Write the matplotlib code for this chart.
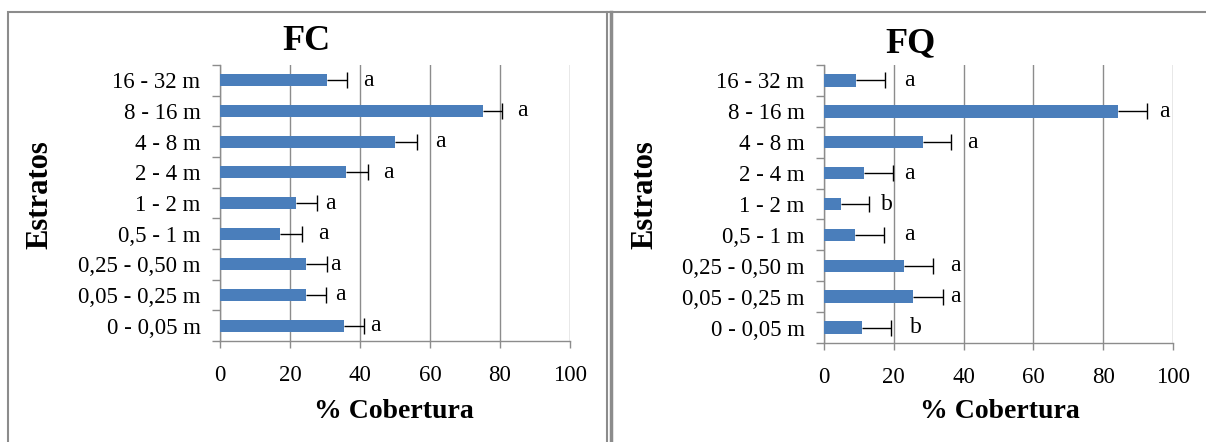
import numpy as np
import matplotlib.pyplot as plt
from matplotlib.lines import Line2D
from matplotlib.patches import Rectangle

plt.rcParams['font.family'] = ['Liberation Serif', 'DejaVu Serif']

# strata, listed from the bottom of the chart to the top
strata = ['0 - 0,05 m', '0,05 - 0,25 m', '0,25 - 0,50 m', '0,5 - 1 m',
          '1 - 2 m', '2 - 4 m', '4 - 8 m', '8 - 16 m', '16 - 32 m']

# FC panel
fc_cover = [35.3, 24.5, 24.5, 17.2, 21.6, 36.0, 50.0, 75.0, 30.5]
fc_err = [5.7, 5.8, 6.1, 6.3, 6.2, 6.2, 6.2, 5.7, 5.7]
fc_letters = ['a', 'a', 'a', 'a', 'a', 'a', 'a', 'a', 'a']
fc_letter_x = [42.9, 32.9, 31.4, 28.0, 29.9, 46.5, 61.5, 85.0, 41.0]

# FQ panel
fq_cover = [10.9, 25.6, 22.8, 8.8, 4.9, 11.5, 28.4, 84.3, 9.2]
fq_err = [8.2, 8.4, 8.3, 8.3, 7.9, 8.3, 8.1, 8.3, 8.4]
fq_letters = ['b', 'a', 'a', 'a', 'b', 'a', 'a', 'a', 'a']
fq_letter_x = [24.6, 36.0, 36.0, 23.0, 16.2, 23.0, 41.0, 96.0, 23.0]

W, H = 1206, 442
BLUE = '#4a7ebb'
GRAY = '#8c8c8c'

fig = plt.figure(figsize=(W / 100, H / 100), dpi=100)


def px(x, y):
    return x / W, 1 - y / H


def draw_panel(rect, title, title_xy, ylabel_xy, xlabel_xy, cover, err, letters, letter_x):
    ax = fig.add_axes(rect)
    y = np.arange(len(strata))
    cover = np.array(cover)
    err = np.array(err)

    ax.barh(y, cover, height=0.4, color=BLUE, zorder=3)
    ax.hlines(y, cover, cover + err, color='black', lw=1, zorder=4)
    ax.plot(cover + err, y, ls='none', marker='|', ms=12, mew=1, color='black', zorder=4)
    for yi, lx, lt in zip(y, letter_x, letters):
        ax.text(lx, yi, lt, fontsize=17, va='center', ha='left')

    ax.set_xlim(0, 100)
    ax.set_ylim(-0.5, len(strata) - 0.5)
    ax.set_xticks(np.arange(0, 101, 20))
    ax.tick_params(axis='x', labelsize=16.5, length=5, width=1, color=GRAY, pad=12)
    ax.set_yticks(np.arange(-0.5, len(strata), 1))
    ax.set_yticklabels([])
    ax.set_yticks(y, minor=True)
    ax.set_yticklabels(strata, minor=True)
    ax.tick_params(axis='y', which='major', length=6, width=1, color=GRAY)
    ax.tick_params(axis='y', which='minor', length=0, labelsize=16.5, pad=14)
    ax.xaxis.grid(True, color=GRAY, lw=1, zorder=0)
    ax.set_axisbelow(True)
    for s in ['top', 'right']:
        ax.spines[s].set_visible(False)
    for s in ['left', 'bottom']:
        ax.spines[s].set_color(GRAY)
        ax.spines[s].set_linewidth(1)

    fig.text(*px(*title_xy), title, fontsize=26, fontweight='bold', ha='center', va='center')
    fig.text(*px(*ylabel_xy), 'Estratos', fontsize=22, fontweight='bold',
             rotation=90, ha='center', va='center')
    fig.text(*px(*xlabel_xy), '% Cobertura', fontsize=20, fontweight='bold',
             ha='center', va='center')
    return ax


draw_panel([220 / W, 1 - 341 / H, 350 / W, 276 / H], 'FC', (306, 42), (40, 195), (394, 412),
           fc_cover, fc_err, fc_letters, fc_letter_x)
draw_panel([824 / W, 1 - 343 / H, 349 / W, 278 / H], 'FQ', (910, 44), (645, 195), (1000, 411),
           fq_cover, fq_err, fq_letters, fq_letter_x)

# panel frames
fig.add_artist(Rectangle(px(8, 460), 599 / W, 448 / H, transform=fig.transFigure,
                         fill=False, edgecolor=GRAY, lw=1.5))
fig.add_artist(Line2D([611 / W, 611 / W], [1 - 12 / H, 0], transform=fig.transFigure,
                      color=GRAY, lw=2.5))
fig.add_artist(Line2D([607 / W, 1], [1 - 12 / H, 1 - 12 / H], transform=fig.transFigure,
                      color=GRAY, lw=1.5))

fig.savefig('out.png', dpi=100)
